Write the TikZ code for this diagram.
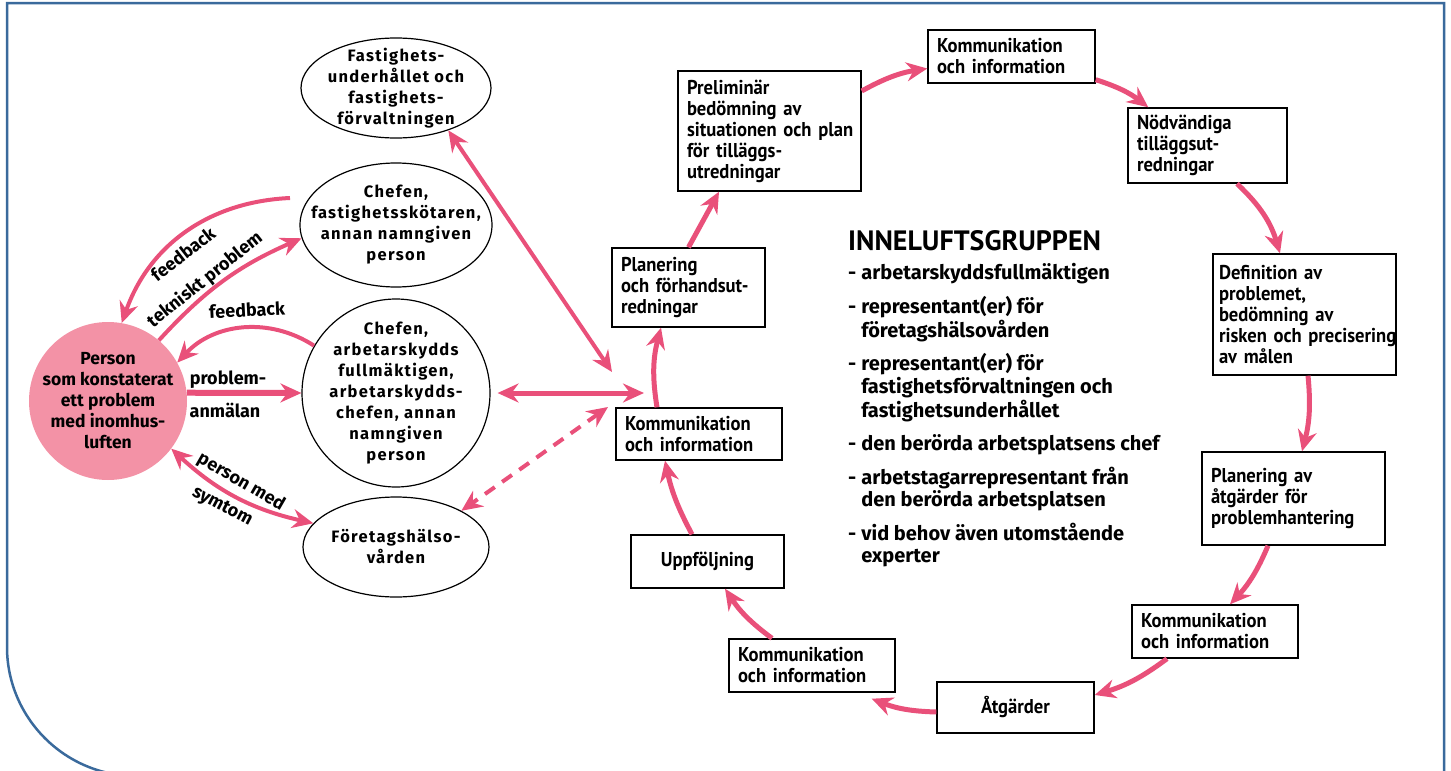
\documentclass[tikz,border=0pt]{standalone}
\usepackage{fontspec}
\setmainfont{PT Sans}
\newfontfamily\boxfont[FakeStretch=0.93]{PT Sans}
\newfontfamily\firafont{Fira Sans}
\newfontfamily\ellfont[LetterSpace=8]{Fira Sans}
\usepackage{tikz}
\usetikzlibrary{arrows.meta,shapes.geometric}

\definecolor{arrpink}{RGB}{233,80,122}
\definecolor{circpink}{RGB}{243,146,166}
\definecolor{frameblue}{RGB}{58,106,156}

\tikzset{
  box/.style={draw, line width=1.4pt, inner xsep=9pt, inner ysep=3pt, align=left,
    font=\boxfont\fontsize{20}{21}\selectfont\bfseries,
    execute at begin node={\hyphenpenalty=10000\exhyphenpenalty=10000}},
  ell/.style={ellipse, draw, line width=1.2pt, inner sep=0pt},
  elltext/.style={inner sep=0pt, align=center, font=\ellfont\fontsize{16.5}{21}\selectfont\bfseries},
  lab/.style={inner sep=0pt, font=\firafont\fontsize{18}{20}\selectfont\bfseries},
  arr/.style={draw=arrpink, line width=5pt},
  >={Stealth[length=21pt,width=19pt,inset=7pt]},
}

\begin{document}
\begin{tikzpicture}[x=1pt, y=-1pt]
\useasboundingbox (0,0) rectangle (1451,771);
% frame
\draw[frameblue, line width=2.5pt] (136,776) .. controls (65,776) and (7,718) .. (7,647)
  -- (7,3) -- (1444,3) -- (1444,776);

% left side
\node[circle, fill=circpink, minimum size=158pt, inner sep=0pt,
  label={[elltext, font=\firafont\fontsize{17.5}{21}\selectfont\bfseries]center:{Person\\som konstaterat\\ett problem\\med inomhus-\\luften}}]
  (person) at (108,401) {};

\node[ell, minimum width=190pt, minimum height=100pt,
  label={[elltext]center:{Fastighets-\\underhållet och\\fastighets-\\förvaltningen}}] (fast) at (396,88) {};
\node[ell, minimum width=192pt, minimum height=124pt,
  label={[elltext]center:{Chefen,\\fastighetsskötaren,\\annan namngiven\\person}}] (chefA) at (396,225) {};
\node[ell, minimum width=188pt, minimum height=188pt,
  label={[elltext]center:{Chefen,\\arbetarskydds\\fullmäktigen,\\arbetarskydds-\\chefen, annan\\namngiven\\person}}] (chefB) at (396,393) {};
\node[ell, minimum width=186pt, minimum height=100pt,
  label={[elltext]center:{Företagshälso-\\vården}}] (hals) at (396,547) {};

% cycle
\node[box, text width=135pt, minimum height=79pt] (plan) at (688.5,287.5) {Planering\\och~förhandsut-\\redningar};
\node[box, text width=165pt, minimum height=120pt] (prelim) at (769.5,131) {Preliminär\\bedömning av\\situationen~och~plan\\för tilläggs-\\utredningar};
\node[box, text width=149pt, minimum height=53pt] (kommA) at (1011.5,56.5) {Kommunikation\\och information};
\node[box, text width=141pt, minimum height=75pt] (nodv) at (1207.5,145.5) {Nödvändiga\\tilläggsut-\\redningar};
\node[box, inner xsep=6pt, text width=171pt, minimum height=121pt] (defin) at (1304.5,314.5) {Definition av\\problemet,\\bedömning av\\risken~och~precisering\\av målen};
\node[box, text width=165pt, minimum height=93pt] (planav) at (1293.5,498.5) {Planering av\\åtgärder för\\problemhantering};
\node[box, text width=148pt, minimum height=53pt] (kommB) at (1215,631.5) {Kommunikation\\och information};
\node[box, align=center, text width=139pt, minimum height=51pt] (atg) at (1015.5,707.5) {Åtgärder};
\node[box, text width=148pt, minimum height=53pt] (kommC) at (812,665.5) {Kommunikation\\och information};
\node[box, align=center, text width=135pt, minimum height=53pt] (uppf) at (707.5,561.5) {Uppföljning};
\node[box, text width=148pt, minimum height=52pt] (kommD) at (699,434) {Kommunikation\\och information};

% inneluftsgruppen
\node[anchor=west, inner sep=0pt, font=\fontsize{28}{30}\selectfont\bfseries] (head) at (848,241) {INNELUFTSGRUPPEN};
\node[anchor=north west, inner sep=0pt, font=\firafont\fontsize{20}{22}\selectfont\bfseries] (members) at (848,263) {%
\begin{tabular}{@{}l@{\hspace{5pt}}l@{}}
- & arbetarskyddsfullmäktigen\\[10pt]
- & representant(er) för\\
  & företagshälsovården\\[10pt]
- & representant(er) för\\
  & fastighetsförvaltningen och\\
  & fastighetsunderhållet\\[10pt]
- & den berörda arbetsplatsens chef\\[10pt]
- & arbetstagarrepresentant från\\
  & den berörda arbetsplatsen\\[10pt]
- & vid behov även utomstående\\
  & experter
\end{tabular}};

\coordinate (hubN) at (612,372);
\coordinate (hubE) at (644,393);
\coordinate (hubS) at (608,407);
\coordinate (fbstart) at (290,198);

% arrows, left
\draw[arr, line width=4pt, ->] (fbstart) to[bend right=34] (person.80);
\draw[arr, line width=4pt, ->] (person.50) to[bend left=12] (chefA.188);
\draw[arr, line width=4pt, ->] (chefB.150) to[bend right=40] (person.29);
\draw[arr, line width=6pt, ->] (person.6) -- (chefB.west);
\draw[arr, line width=4pt, <->] (person.-37) to[bend right=15] (hals.164);
\draw[arr, line width=4pt, <->] (fast.-39) -- (hubN);
\draw[arr, <->] ([xshift=7pt]chefB.east) -- (hubE);
\draw[arr, line width=4pt, dash pattern=on 12pt off 9pt, <->] (hubS) -- (hals.29);

\node[lab, rotate=38] (fbA) at (183,254) {feedback};
\node[lab, rotate=38.5] (tekn) at (205,280) {tekniskt problem};
\node[lab, rotate=3] (fbB) at (247,310) {feedback};
\node[lab] (probA) at (228,380) {problem-};
\node[lab] (probB) at (225,410) {anmälan};
\node[lab, rotate=-30] (symA) at (241,482) {person med};
\node[lab, rotate=-28] (symB) at (222,507) {symtom};

% arrows, cycle
\draw[arr, ->] ([xshift=-15.5pt]uppf.north) to[bend left=8] ([xshift=-34pt]kommD.south);
\draw[arr, ->] ([xshift=-42pt]kommD.north) to[bend left=12] ([xshift=-27.5pt]plan.south);
\draw[arr, ->] (plan.north) -- ([xshift=-50.5pt]prelim.south);
\draw[arr, ->] ([yshift=40pt]prelim.east) to[bend left=10] ([yshift=-12pt]kommA.west);
\draw[arr, ->] ([yshift=4pt]kommA.south east) to[bend left=10] ([xshift=21pt]nodv.north west);
\draw[arr, ->] ([xshift=29.5pt]nodv.south) to[bend left=15] ([xshift=-24.5pt]defin.north);
\draw[arr, ->] ([xshift=3.5pt]defin.south) to[bend left=10] ([xshift=8.5pt]planav.north);
\draw[arr, ->] ([xshift=-25.5pt]planav.south) to[bend left=10] ([xshift=15pt]kommB.north);
\draw[arr, ->] ([xshift=-48pt]kommB.south) to[bend left=10] ([yshift=12.5pt]atg.east);
\draw[arr, ->] ([yshift=-4.5pt]atg.west) to[bend left=10] ([xshift=-24pt,yshift=-6pt]kommC.south east);
\draw[arr, ->] ([xshift=-40pt]kommC.north) to[bend left=10] ([xshift=17.5pt]uppf.south);
\end{tikzpicture}
\end{document}
